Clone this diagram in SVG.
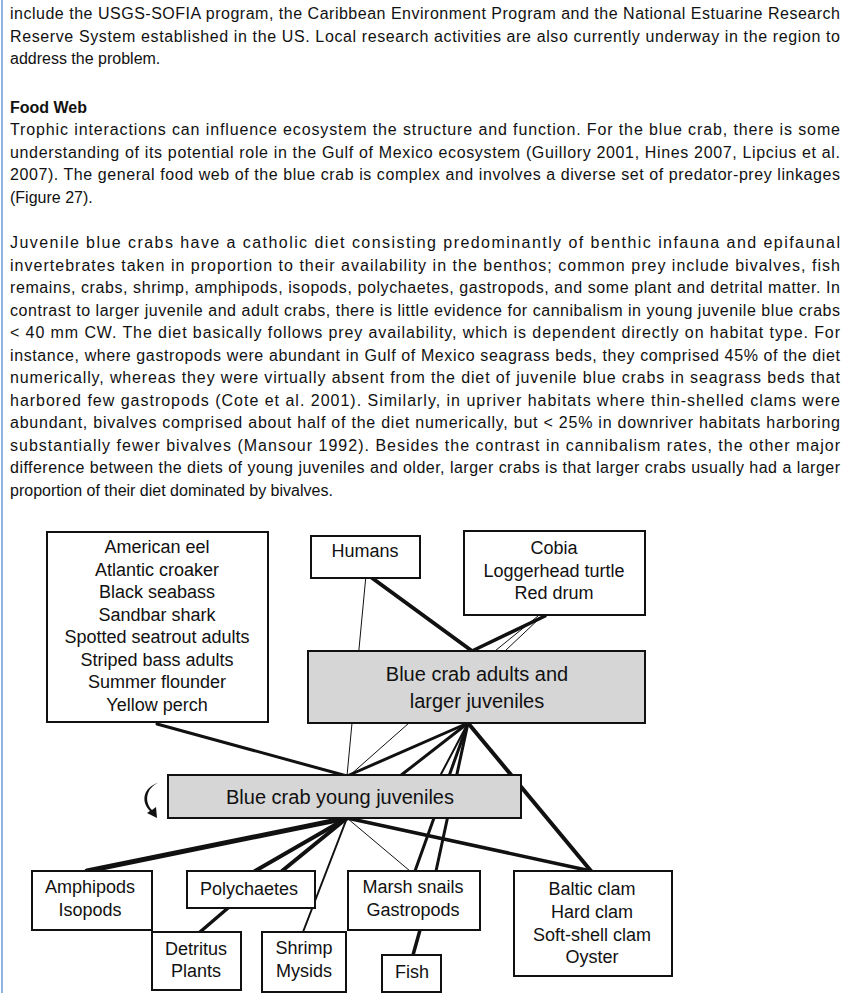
<svg xmlns="http://www.w3.org/2000/svg" width="850" height="993" viewBox="0 0 850 993">
<style>
.p{font-family:"Liberation Sans",Arial,sans-serif;font-size:16px;fill:#111}
.b{font-weight:bold}
.n{font-family:"Liberation Sans",Arial,sans-serif;font-size:18px;fill:#111;text-anchor:middle}
.box{fill:#fff;stroke:#111;stroke-width:2}
.g{fill:#d6d6d6;stroke:#111;stroke-width:2}
.c line{stroke:#111;stroke-linecap:round}
</style>
<rect width="850" height="993" fill="#fff"/>
<line x1="2" y1="0" x2="2" y2="993" stroke="#8fb4e3" stroke-width="2"/>
<g class="p">
<text x="10" y="19" textLength="830" lengthAdjust="spacing">include the USGS-SOFIA program, the Caribbean Environment Program and the National Estuarine Research</text>
<text x="10" y="42" textLength="830" lengthAdjust="spacing">Reserve System established in the US. Local research activities are also currently underway in the region to</text>
<text x="10" y="64">address the problem.</text>
<text x="10" y="113" class="b">Food Web</text>
<text x="10" y="135" textLength="830" lengthAdjust="spacing">Trophic interactions can influence ecosystem the structure and function. For the blue crab, there is some</text>
<text x="10" y="158" textLength="830" lengthAdjust="spacing">understanding of its potential role in the Gulf of Mexico ecosystem (Guillory 2001, Hines 2007, Lipcius et al.</text>
<text x="10" y="180" textLength="830" lengthAdjust="spacing">2007). The general food web of the blue crab is complex and involves a diverse set of predator-prey linkages</text>
<text x="10" y="203">(Figure 27).</text>
<text x="10" y="248" textLength="830" lengthAdjust="spacing">Juvenile blue crabs have a catholic diet consisting predominantly of benthic infauna and epifaunal</text>
<text x="10" y="271" textLength="830" lengthAdjust="spacing">invertebrates taken in proportion to their availability in the benthos; common prey include bivalves, fish</text>
<text x="10" y="293" textLength="830" lengthAdjust="spacing">remains, crabs, shrimp, amphipods, isopods, polychaetes, gastropods, and some plant and detrital matter. In</text>
<text x="10" y="316" textLength="830" lengthAdjust="spacing">contrast to larger juvenile and adult crabs, there is little evidence for cannibalism in young juvenile blue crabs</text>
<text x="10" y="338" textLength="830" lengthAdjust="spacing">&lt; 40 mm CW. The diet basically follows prey availability, which is dependent directly on habitat type. For</text>
<text x="10" y="361" textLength="830" lengthAdjust="spacing">instance, where gastropods were abundant in Gulf of Mexico seagrass beds, they comprised 45% of the diet</text>
<text x="10" y="383" textLength="830" lengthAdjust="spacing">numerically, whereas they were virtually absent from the diet of juvenile blue crabs in seagrass beds that</text>
<text x="10" y="406" textLength="830" lengthAdjust="spacing">harbored few gastropods (Cote et al. 2001). Similarly, in upriver habitats where thin-shelled clams were</text>
<text x="10" y="428" textLength="830" lengthAdjust="spacing">abundant, bivalves comprised about half of the diet numerically, but &lt; 25% in downriver habitats harboring</text>
<text x="10" y="451" textLength="830" lengthAdjust="spacing">substantially fewer bivalves (Mansour 1992). Besides the contrast in cannibalism rates, the other major</text>
<text x="10" y="473" textLength="830" lengthAdjust="spacing">difference between the diets of young juveniles and older, larger crabs is that larger crabs usually had a larger</text>
<text x="10" y="496">proportion of their diet dominated by bivalves.</text>
</g>
<g id="connectors" class="c">
<line x1="157" y1="724" x2="347" y2="776" stroke-width="3"/>
<line x1="368" y1="575" x2="472" y2="651" stroke-width="4"/>
<line x1="366" y1="575" x2="347" y2="776" stroke-width="1"/>
<line x1="545" y1="616" x2="472" y2="651" stroke-width="3.5"/>
<line x1="542" y1="616" x2="505" y2="651" stroke-width="1"/>
<line x1="538" y1="616" x2="495" y2="651" stroke-width="1"/>
<line x1="468" y1="723" x2="347" y2="776" stroke-width="3"/>
<line x1="468" y1="723" x2="400" y2="776" stroke-width="3"/>
<line x1="468" y1="723" x2="440" y2="776" stroke-width="2"/>
<line x1="409" y1="723" x2="349" y2="776" stroke-width="1"/>
<line x1="468" y1="723" x2="415" y2="871" stroke-width="3"/>
<line x1="468" y1="723" x2="436" y2="871" stroke-width="3"/>
<line x1="468" y1="723" x2="591" y2="871" stroke-width="4"/>
<line x1="347" y1="818" x2="87" y2="871" stroke-width="5"/>
<line x1="347" y1="818" x2="255" y2="871" stroke-width="4"/>
<line x1="347" y1="818" x2="282" y2="871" stroke-width="4"/>
<line x1="347" y1="818" x2="303" y2="932" stroke-width="2"/>
<line x1="347" y1="818" x2="410" y2="871" stroke-width="1"/>
<line x1="347" y1="818" x2="591" y2="871" stroke-width="3.5"/>
<line x1="228" y1="908" x2="200" y2="932" stroke-width="3.5"/>
<line x1="420" y1="930" x2="413" y2="955" stroke-width="3.5"/>
</g>
<g id="predators"><rect class="box" x="47" y="532" width="221" height="190"/>
<text class="n" x="157" y="553">American eel</text><text class="n" x="157" y="576">Atlantic croaker</text><text class="n" x="157" y="598">Black seabass</text><text class="n" x="157" y="621">Sandbar shark</text><text class="n" x="157" y="643">Spotted seatrout adults</text><text class="n" x="157" y="666">Striped bass adults</text><text class="n" x="157" y="688">Summer flounder</text><text class="n" x="157" y="711">Yellow perch</text></g>
<g id="humans"><rect class="box" x="311" y="536" width="109" height="42"/><text class="n" x="365" y="557">Humans</text></g>
<g id="cobia"><rect class="box" x="464" y="531" width="181" height="84"/>
<text class="n" x="554" y="554">Cobia</text><text class="n" x="554" y="577">Loggerhead turtle</text><text class="n" x="554" y="599">Red drum</text></g>
<g id="adults"><rect class="g" x="308" y="651" width="337" height="72"/>
<text class="n" x="477" y="681" style="font-size:20px">Blue crab adults and</text><text class="n" x="477" y="708" style="font-size:20px">larger juveniles</text></g>
<g id="young"><rect class="g" x="168" y="775" width="353" height="43"/>
<text class="n" x="340" y="804" style="font-size:20px">Blue crab young juveniles</text>
<path d="M158,783 C146,788 144,802 152,810 L156,807 L157,818 L147,813 L150,811 C140,801 144,787 158,783 Z" fill="#111"/></g>
<g id="amphipods"><rect class="box" x="32" y="871" width="120" height="59"/><text class="n" x="90" y="893">Amphipods</text><text class="n" x="90" y="916">Isopods</text></g>
<g id="polychaetes"><rect class="box" x="187" y="871" width="128" height="37"/><text class="n" x="249" y="895">Polychaetes</text></g>
<g id="marsh"><rect class="box" x="348" y="871" width="132" height="59"/><text class="n" x="413" y="893">Marsh snails</text><text class="n" x="413" y="916">Gastropods</text></g>
<g id="clams"><rect class="box" x="514" y="871" width="158" height="105"/><text class="n" x="592" y="895">Baltic clam</text><text class="n" x="592" y="918">Hard clam</text><text class="n" x="592" y="941">Soft-shell clam</text><text class="n" x="592" y="963">Oyster</text></g>
<g id="detritus"><rect class="box" x="152" y="932" width="89" height="58"/><text class="n" x="196" y="955">Detritus</text><text class="n" x="196" y="977">Plants</text></g>
<g id="shrimp"><rect class="box" x="262" y="932" width="84" height="60"/><text class="n" x="304" y="954">Shrimp</text><text class="n" x="304" y="977">Mysids</text></g>
<g id="fish"><rect class="box" x="382" y="955" width="59" height="37"/><text class="n" x="412" y="978">Fish</text></g>
</svg>
